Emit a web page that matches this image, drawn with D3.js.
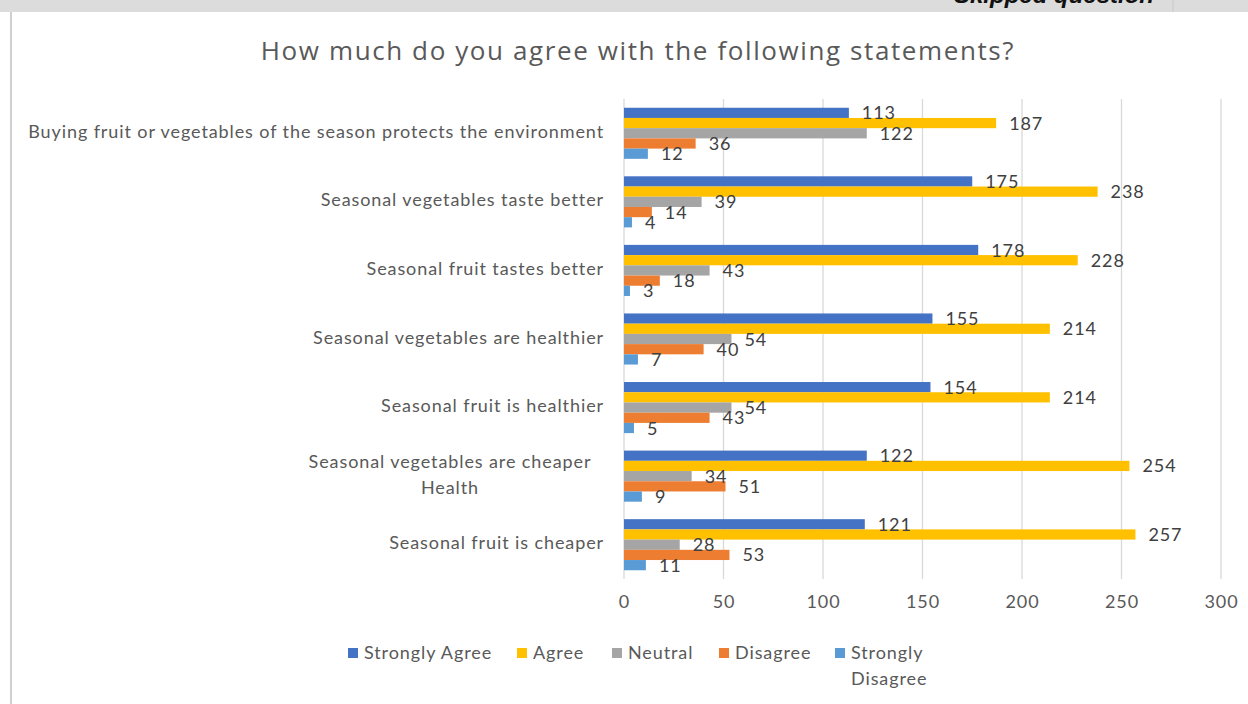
<!DOCTYPE html>
<html><head><meta charset="utf-8">
<script src="https://cdn.jsdelivr.net/npm/d3@7"></script>
<style>
html,body{margin:0;padding:0;background:#fff;}
svg{display:block;}
</style></head>
<body>
<svg id="chart" width="1248" height="704"></svg>
<script>
const categories = [
  ["Buying fruit or vegetables of the season protects the environment"],
  ["Seasonal vegetables taste better"],
  ["Seasonal fruit tastes better"],
  ["Seasonal vegetables are healthier"],
  ["Seasonal fruit is healthier"],
  ["Seasonal vegetables are cheaper", "Health"],
  ["Seasonal fruit is cheaper"]
];
const seriesNames = ["Strongly Agree", "Agree", "Neutral", "Disagree", "Strongly Disagree"];
const stronglyAgree    = [113, 175, 178, 155, 154, 122, 121];
const agree            = [187, 238, 228, 214, 214, 254, 257];
const neutral          = [122, 39, 43, 54, 54, 34, 28];
const disagree         = [36, 14, 18, 40, 43, 51, 53];
const stronglyDisagree = [12, 4, 3, 7, 5, 9, 11];
const xTicks = [0, 50, 100, 150, 200, 250, 300];
const colors = ["#4472C4", "#FFC000", "#A5A5A5", "#ED7D31", "#5B9BD5"];
const titleText = "How much do you agree with the following statements?";

const seriesValues = [stronglyAgree, agree, neutral, disagree, stronglyDisagree];
const svg = d3.select("#chart");
const font = "Lato, 'Open Sans', sans-serif";
const FS = 18, LS = 0.9;

// top strip
svg.append("rect").attr("x",0).attr("y",0).attr("width",1248).attr("height",12).attr("fill","#dcdcdc");
svg.append("line").attr("x1",1173).attr("x2",1173).attr("y1",0).attr("y2",12).attr("stroke","#c8c8c8");
svg.append("text").attr("x",1154).attr("y",3).attr("text-anchor","end")
  .attr("font-family","'Liberation Sans', Arial, sans-serif").attr("font-size",24)
  .attr("font-weight","bold").attr("font-style","italic").attr("fill","#111")
  .text("Skipped question");
svg.append("rect").attr("x",0).attr("y",12).attr("width",1248).attr("height",692).attr("fill","#fff");
svg.append("line").attr("x1",11).attr("x2",11).attr("y1",12).attr("y2",704).attr("stroke","#d0d0d0").attr("stroke-width",2);

const x = d3.scaleLinear().domain([0,300]).range([624,1221]);
const y = d3.scaleBand().domain(d3.range(categories.length)).range([99,579]).paddingInner(0.255).paddingOuter(0.1275);
const inner = d3.scaleBand().domain(d3.range(seriesNames.length)).range([0,y.bandwidth()]);

// title
svg.append("text").attr("x",638).attr("y",60).attr("text-anchor","middle")
  .attr("font-family","'Open Sans', sans-serif").attr("font-size",26).attr("fill","#595959")
  .attr("letter-spacing",1.6).text(titleText);

// gridlines
svg.append("g").selectAll("line").data(xTicks).join("line")
  .attr("x1",d=>x(d)).attr("x2",d=>x(d)).attr("y1",99).attr("y2",579)
  .attr("stroke","#d9d9d9").attr("stroke-width",1.3);

// axis tick labels
const xAxis = d3.axisBottom(x).tickValues(xTicks).tickSize(0).tickPadding(0);
const gx = svg.append("g").attr("transform","translate(0,595)").call(xAxis);
gx.select(".domain").remove();
gx.selectAll("text").attr("font-family",font).attr("font-size",FS).attr("letter-spacing",LS)
  .attr("fill","#595959").attr("dy","0.71em");

// bars
const groups = svg.append("g").selectAll("g").data(categories).join("g")
  .attr("transform",(d,i)=>`translate(0,${y(i)})`);
seriesNames.forEach((s,si)=>{
  groups.append("rect")
    .attr("x",x(0))
    .attr("y",inner(si))
    .attr("width",(d,i)=>x(seriesValues[si][i])-x(0))
    .attr("height",inner.bandwidth())
    .attr("fill",colors[si]);
});
seriesNames.forEach((s,si)=>{
  groups.append("text")
    .attr("x",(d,i)=>x(seriesValues[si][i])+13)
    .attr("y",inner(si)+inner.bandwidth()/2+2)
    .attr("dominant-baseline","middle")
    .attr("font-family",font).attr("font-size",FS).attr("letter-spacing",LS).attr("fill","#404040")
    .text((d,i)=>seriesValues[si][i]);
});

// category labels
categories.forEach((lines,i)=>{
  const cy = y(i)+y.bandwidth()/2;
  if(lines.length===1){
    svg.append("text").attr("x",604).attr("y",cy).attr("text-anchor","end")
      .attr("dominant-baseline","middle").attr("font-family",font).attr("font-size",FS)
      .attr("letter-spacing",LS).attr("fill","#595959").text(lines[0]);
  } else {
    const t = svg.append("text").attr("font-family",font).attr("font-size",FS).attr("letter-spacing",LS)
      .attr("fill","#595959").attr("text-anchor","middle");
    lines.forEach((ln,k)=>{
      t.append("tspan").attr("x",450).attr("y",cy+(k-(lines.length-1)/2)*26)
        .attr("dominant-baseline","middle").text(ln);
    });
  }
});

// legend
const legendX = [348, 517, 612, 719, 835];
const leg = svg.append("g");
seriesNames.forEach((s,si)=>{
  leg.append("rect").attr("x",legendX[si]).attr("y",648).attr("width",10).attr("height",10).attr("fill",colors[si]);
  const t = leg.append("text").attr("font-family",font).attr("font-size",FS).attr("letter-spacing",LS).attr("fill","#595959");
  const parts = si===4 ? ["Strongly","Disagree"] : [s];
  parts.forEach((p,k)=>{
    t.append("tspan").attr("x",legendX[si]+16).attr("y",654+k*26).attr("dominant-baseline","middle").text(p);
  });
});
</script>
</body></html>
